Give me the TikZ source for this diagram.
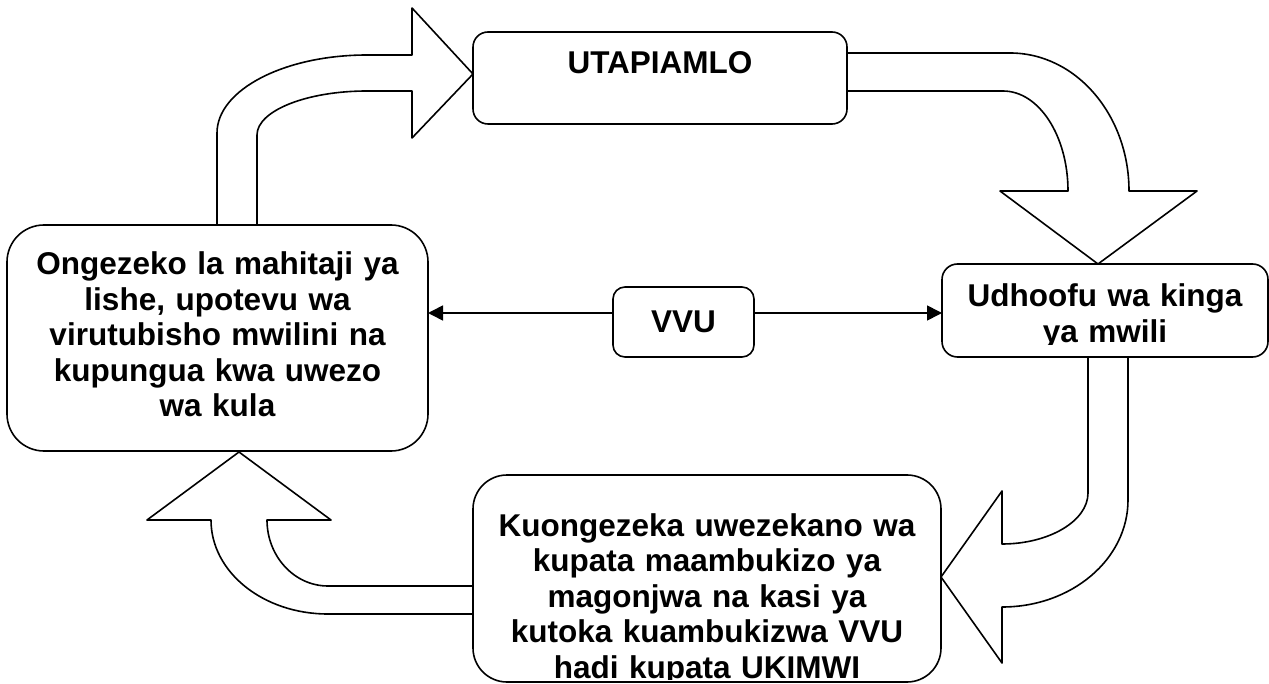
\documentclass[tikz,border=0pt]{standalone}
\usepackage{fontspec}
\setmainfont{Liberation Sans}
\usetikzlibrary{arrows.meta}
\begin{document}
\begin{tikzpicture}[x=1pt,y=-1pt,
  line join=round,
  box/.style={draw=black, fill=white, rectangle, inner sep=0pt, outer sep=0pt, line width=1.6pt},
  lbl/.style={font=\bfseries\fontsize{31.5}{35.5}\selectfont, inner sep=0pt, text width=470pt, align=center, anchor=base},
  blockarrow/.style={draw=black, fill=white, line width=1.6pt},
  link/.style={line width=1.6pt, -{Triangle[length=15pt,width=15pt]}}
]
\useasboundingbox (0,0) rectangle (1269,684);

% block arrows
\draw[blockarrow] (217,226) -- (217,133) .. controls (217,90) and (284,55) .. (367,55) -- (412,55) -- (412,8) -- (473,74) -- (412,138) -- (412,91) -- (367,91) .. controls (306,91) and (257,111) .. (257,135) -- (257,226) -- cycle;
\draw[blockarrow] (846,53) -- (1010,53) .. controls (1076,53) and (1129,115) .. (1129,191) -- (1197,191) -- (1098,264) -- (1000,191) -- (1068,191) .. controls (1068,136) and (1039,91) .. (1003,91) -- (846,91) -- cycle;
\draw[blockarrow] (1128,356) -- (1128,500) .. controls (1128,559) and (1072,607) .. (1002,607) -- (1002,663) -- (941,577) -- (1002,491) -- (1002,544) .. controls (1049,544) and (1088,521) .. (1088,493) -- (1088,356) -- cycle;
\draw[blockarrow] (474,614) -- (328,614) .. controls (263,614) and (211,572) .. (211,520) -- (147,520) -- (239,452) -- (331,520) -- (267,520) .. controls (267,556) and (294,586) .. (328,586) -- (474,586) -- cycle;

% boxes
\node[box, minimum width=374pt, minimum height=92pt, rounded corners=15pt] (top) at (660,78) {};
\node[box, minimum width=421pt, minimum height=226pt, rounded corners=37pt] (lbox) at (217.5,338) {};
\node[box, minimum width=326pt, minimum height=93pt, rounded corners=15.5pt] (rbox) at (1105,310.5) {};
\node[box, minimum width=468pt, minimum height=207pt, rounded corners=34pt] (bbox) at (707,578.5) {};
\node[box, minimum width=141pt, minimum height=70pt, rounded corners=12pt] (vvu) at (683.5,322) {};

% texts
\node[lbl] (ttop) at (660,74) {UTAPIAMLO};
\node[lbl] (tleft) at (217.5,275) {Ongezeko la mahitaji ya\\lishe, upotevu wa\\virutubisho mwilini na\\kupungua kwa uwezo\\wa kula};
\node[lbl] (tvvu) at (683.5,333) {VVU};
\begin{scope}
\clip (942,264) rectangle (1268,345);
\node[lbl] (tright) at (1105,307) {Udhoofu wa kinga\\ya mwili};
\end{scope}
\begin{scope}
\clip (473,475) rectangle (941,679);
\node[lbl] (tbottom) at (707,536) {Kuongezeka uwezekano wa\\kupata maambukizo ya\\magonjwa na kasi ya\\kutoka kuambukizwa VVU\\hadi kupata UKIMWI};
\end{scope}

% VVU links
\coordinate (ay) at (0,313);
\draw[link] (vvu.west |- ay) -- (lbox.east |- ay);
\draw[link] (vvu.east |- ay) -- (rbox.west |- ay);
\end{tikzpicture}
\end{document}
